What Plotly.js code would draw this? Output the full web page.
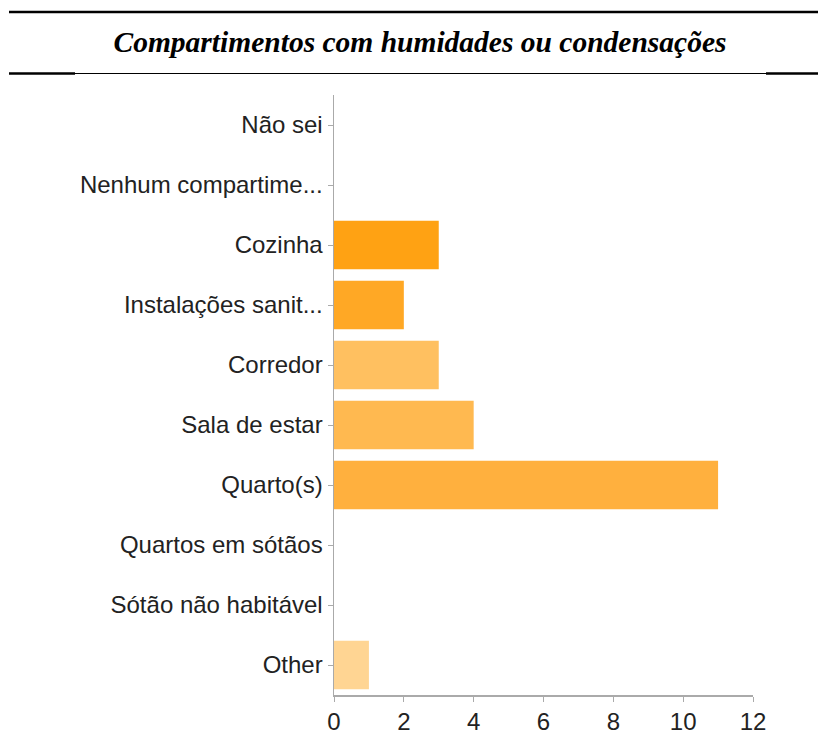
<!DOCTYPE html>
<html>
<head>
<meta charset="utf-8">
<script src="https://cdn.plot.ly/plotly-3.0.1.min.js"></script>
<style>
html,body{margin:0;padding:0;background:#fff;}
#chart{width:818px;height:747px;}
</style>
</head>
<body>
<div id="chart"></div>
<script>
const chartTitle = "Compartimentos com humidades ou condensações";
const categories = ["Não sei", "Nenhum compartime...", "Cozinha", "Instalações sanit...", "Corredor", "Sala de estar", "Quarto(s)", "Quartos em sótãos", "Sótão não habitável", "Other"];
const counts = [0, 0, 3, 2, 3, 4, 11, 0, 0, 1];
const barColors = ["#ff9900", "#ff9900", "#ffa213", "#ffa825", "#ffc060", "#ffb950", "#ffb03e", "#ffb03e", "#ffb03e", "#ffd593"];
const xTicks = [0, 2, 4, 6, 8, 10, 12];

const W = 818, H = 747;
const L = 334, R = 65, T = 95, B = 52;
const pw = W - L - R, ph = H - T - B;
const px = v => (v - L) / pw;
const py = v => (H - B - v) / ph;

const trace = {
  type: "bar",
  orientation: "h",
  x: counts,
  y: categories,
  marker: {color: barColors, line: {width: 0}},
  hoverinfo: "x+y"
};

const layout = {
  width: W, height: H,
  margin: {l: L, r: R, t: T, b: B, pad: 0},
  paper_bgcolor: "#ffffff",
  plot_bgcolor: "#ffffff",
  showlegend: false,
  bargap: 0.19,
  font: {family: "Liberation Sans, Arial, sans-serif", color: "#222222"},
  title: {
    text: "<b><i>" + chartTitle + "</i></b>",
    font: {family: "Liberation Serif, Times New Roman, serif", size: 29.5, color: "#000000"},
    x: 420 / W, xref: "container", xanchor: "center",
    y: 1 - 42 / H, yref: "container", yanchor: "middle"
  },
  xaxis: {
    range: [0, 12],
    tickvals: xTicks,
    ticktext: xTicks.map(String),
    showgrid: false,
    zeroline: false,
    showline: true,
    linecolor: "#aaaaaa",
    linewidth: 1.5,
    ticks: "outside",
    ticklen: 5,
    tickcolor: "#aaaaaa",
    tickfont: {size: 24, color: "#222222"},
    fixedrange: true
  },
  yaxis: {
    categoryorder: "array",
    categoryarray: categories.slice().reverse(),
    autorange: false,
    range: [-0.5, categories.length - 0.5],
    showgrid: false,
    zeroline: false,
    showline: true,
    linecolor: "#aaaaaa",
    linewidth: 1.5,
    ticks: "outside",
    ticklen: 5,
    tickcolor: "#aaaaaa",
    tickfont: {size: 24, color: "#222222"},
    fixedrange: true
  },
  shapes: [
    {type: "line", xref: "paper", yref: "paper", x0: px(9), x1: px(818), y0: py(12), y1: py(12), line: {color: "#000000", width: 2.5}},
    {type: "line", xref: "paper", yref: "paper", x0: px(9), x1: px(75), y0: py(73.5), y1: py(73.5), line: {color: "#000000", width: 2.5}},
    {type: "line", xref: "paper", yref: "paper", x0: px(75), x1: px(766), y0: py(73.5), y1: py(73.5), line: {color: "#000000", width: 1}},
    {type: "line", xref: "paper", yref: "paper", x0: px(766), x1: px(818), y0: py(73.5), y1: py(73.5), line: {color: "#000000", width: 2.5}}
  ]
};

Plotly.newPlot("chart", [trace], layout, {displayModeBar: false, staticPlot: true});
</script>
</body>
</html>
